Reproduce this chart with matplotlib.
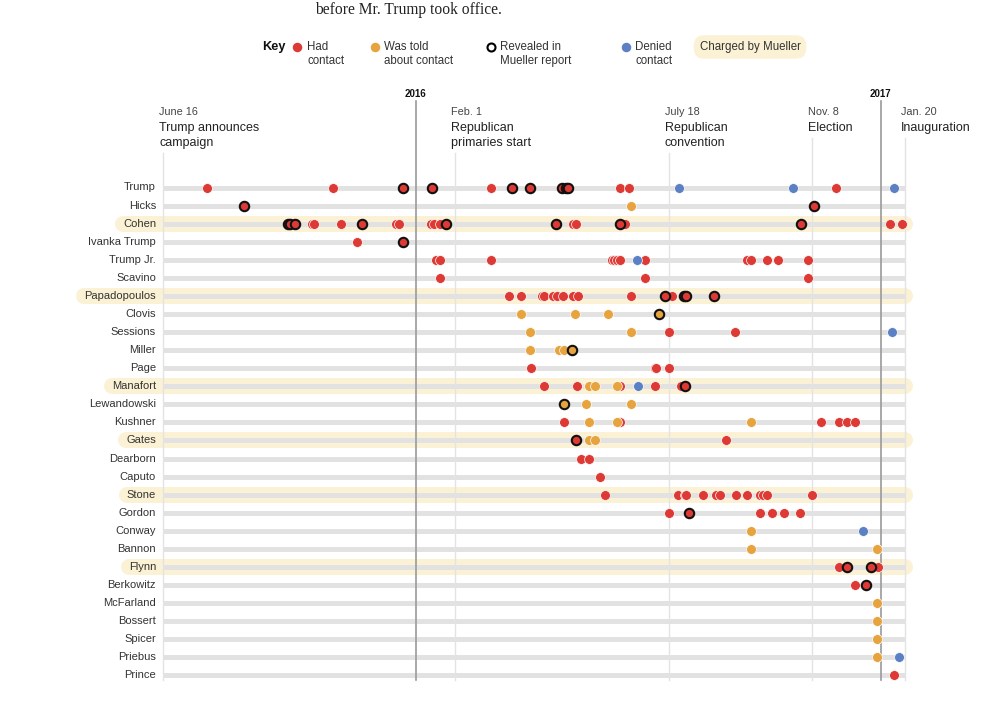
import datetime as dt
import matplotlib
matplotlib.use("Agg")
import matplotlib.pyplot as plt
import matplotlib.dates as mdates
from matplotlib import font_manager

# ---------------- data ----------------
people = ["Trump", "Hicks", "Cohen", "Ivanka Trump", "Trump Jr.", "Scavino",
          "Papadopoulos", "Clovis", "Sessions", "Miller", "Page", "Manafort",
          "Lewandowski", "Kushner", "Gates", "Dearborn", "Caputo", "Stone",
          "Gordon", "Conway", "Bannon", "Flynn", "Berkowitz", "McFarland",
          "Bossert", "Spicer", "Priebus", "Prince"]
charged = ["Cohen", "Papadopoulos", "Manafort", "Gates", "Stone", "Flynn"]

had_contact = {
    "Trump": ["2015-07-21", "2015-10-28", "2016-02-29", "2016-06-10", "2016-06-17", "2016-11-27"],
    "Cohen": ["2015-10-11", "2015-10-13", "2015-11-03", "2015-12-16", "2015-12-19", "2016-01-13",
              "2016-01-15", "2016-01-20", "2016-05-04", "2016-05-06", "2016-06-14", "2017-01-08",
              "2017-01-18"],
    "Ivanka Trump": ["2015-11-16"],
    "Trump Jr.": ["2016-01-17", "2016-01-20", "2016-02-29", "2016-06-03", "2016-06-05", "2016-06-07",
                  "2016-06-10", "2016-06-29", "2016-09-18", "2016-09-21", "2016-10-03", "2016-10-12",
                  "2016-11-05"],
    "Scavino": ["2016-01-20", "2016-06-29", "2016-11-05"],
    "Papadopoulos": ["2016-03-14", "2016-03-24", "2016-04-09", "2016-04-11", "2016-04-18", "2016-04-21",
                     "2016-04-26", "2016-05-04", "2016-05-08", "2016-06-18", "2016-07-21"],
    "Sessions": ["2016-07-18", "2016-09-08"],
    "Page": ["2016-04-01", "2016-07-07", "2016-07-08", "2016-07-18"],
    "Manafort": ["2016-04-11", "2016-05-07", "2016-06-10", "2016-07-07", "2016-07-28"],
    "Kushner": ["2016-04-27", "2016-06-10", "2016-11-15", "2016-11-29", "2016-12-05", "2016-12-12"],
    "Gates": ["2016-09-01"],
    "Dearborn": ["2016-05-10", "2016-05-16"],
    "Caputo": ["2016-05-25"],
    "Stone": ["2016-05-29", "2016-07-25", "2016-07-31", "2016-08-01", "2016-08-14", "2016-08-24",
              "2016-08-27", "2016-09-09", "2016-09-18", "2016-09-28", "2016-09-30", "2016-10-03",
              "2016-11-08"],
    "Gordon": ["2016-07-18", "2016-09-28", "2016-10-07", "2016-10-17", "2016-10-29"],
    "Flynn": ["2016-11-29", "2016-12-30"],
    "Berkowitz": ["2016-12-12"],
    "Prince": ["2017-01-11"],
}

was_told = {
    "Hicks": ["2016-06-18"],
    "Clovis": ["2016-03-24", "2016-05-05", "2016-05-31"],
    "Sessions": ["2016-03-31", "2016-06-18"],
    "Miller": ["2016-03-31", "2016-04-23", "2016-04-27"],
    "Manafort": ["2016-05-16", "2016-05-21", "2016-06-07"],
    "Lewandowski": ["2016-05-14", "2016-06-18"],
    "Kushner": ["2016-05-16", "2016-06-07", "2016-09-21"],
    "Gates": ["2016-05-16", "2016-05-21"],
    "Conway": ["2016-09-21"],
    "Bannon": ["2016-09-21", "2016-12-29"],
    "McFarland": ["2016-12-29"],
    "Bossert": ["2016-12-29"],
    "Spicer": ["2016-12-29"],
    "Priebus": ["2016-12-29"],
}

denied = {
    "Trump": ["2016-07-26", "2016-10-24", "2017-01-11"],
    "Trump Jr.": ["2016-06-23"],
    "Sessions": ["2017-01-10"],
    "Manafort": ["2016-06-24"],
    "Conway": ["2016-12-18"],
    "Priebus": ["2017-01-15"],
}

# revealed in the Mueller report (black ring)
mueller_had = {
    "Trump": ["2015-12-22", "2016-01-14", "2016-03-17", "2016-03-31", "2016-04-25", "2016-04-28",
              "2016-04-30"],
    "Hicks": ["2015-08-19", "2016-11-09"],
    "Cohen": ["2015-09-22", "2015-09-24", "2015-09-28", "2015-11-20", "2016-01-25", "2016-04-20",
              "2016-06-10", "2016-10-30"],
    "Ivanka Trump": ["2015-12-22"],
    "Papadopoulos": ["2016-07-15", "2016-07-30", "2016-08-01", "2016-08-23"],
    "Manafort": ["2016-07-31"],
    "Gates": ["2016-05-06"],
    "Gordon": ["2016-08-03"],
    "Flynn": ["2016-12-05", "2016-12-24"],
    "Berkowitz": ["2016-12-20"],
}
mueller_told = {
    "Clovis": ["2016-07-10"],
    "Miller": ["2016-05-03"],
    "Lewandowski": ["2016-04-27"],
}

events = [("2015-06-16", "June 16", ["Trump announces", "campaign"]),
          ("2016-02-01", "Feb. 1", ["Republican", "primaries start"]),
          ("2016-07-18", "July 18", ["Republican", "convention"]),
          ("2016-11-08", "Nov. 8", ["Election"]),
          ("2017-01-20", "Jan. 20", ["Inauguration"])]
years = [("2016-01-01", "2016"), ("2017-01-01", "2017")]
start_date, end_date = "2015-06-16", "2017-01-20"

# ---------------- style ----------------
RED, ORANGE, BLUE = "#dd3a35", "#e6a33e", "#5b80c4"
BAND, ROWLINE = "#fbf1d4", "#e2e2e2"
TXT = "#333333"

avail = {f.name for f in font_manager.fontManager.ttflist}
SANS = "Liberation Sans" if "Liberation Sans" in avail else "DejaVu Sans"
SERIF = "Liberation Serif" if "Liberation Serif" in avail else "DejaVu Serif"
plt.rcParams["font.family"] = [SANS, "DejaVu Sans"]

W, H = 999, 722
fig = plt.figure(figsize=(W / 100, H / 100), dpi=100)
ax = fig.add_axes([0, 0, 1, 1])
ax.set_axis_off()

def dnum(s):
    return mdates.date2num(dt.datetime.strptime(s, "%Y-%m-%d"))

# layout: pixel mapping of the time axis
X0_PX, X1_PX = 163.0, 905.0
PX_PER_DAY = (X1_PX - X0_PX) / (dnum(end_date) - dnum(start_date))

def px2x(px):
    return dnum(start_date) + (px - X0_PX) / PX_PER_DAY

ax.set_xlim(px2x(0), px2x(W))
ax.set_ylim(H, 0)

ROW0, ROWSTEP = 187.5, 18.07
rowy = {p: ROW0 + i * ROWSTEP for i, p in enumerate(people)}
PT = 72 / 100.0  # points per pixel

# header text
fig.text(315 / W, 1 - 1.5 / H, "before Mr. Trump took office.", fontsize=11.2,
         family=SERIF, color="#222222", va="top", ha="left")

# legend
ly1, ly2 = 47, 61
LF = 8.3
ax.text(px2x(262), ly1, "Key", fontsize=9.2, fontweight="bold", color="#111111",
        va="center", ha="left")
ax.scatter([px2x(297)], [ly1], s=(9.5 * PT) ** 2, color=RED, linewidths=0, zorder=5)
ax.text(px2x(307), ly1, "Had", fontsize=LF, color=TXT, va="center")
ax.text(px2x(307), ly2, "contact", fontsize=LF, color=TXT, va="center")
ax.scatter([px2x(375)], [ly1], s=(9.5 * PT) ** 2, color=ORANGE, linewidths=0, zorder=5)
ax.text(px2x(384), ly1, "Was told", fontsize=LF, color=TXT, va="center")
ax.text(px2x(384), ly2, "about contact", fontsize=LF, color=TXT, va="center")
ax.scatter([px2x(491)], [ly1], s=(8.0 * PT) ** 2, facecolor="white", edgecolor="black",
           linewidths=1.5, zorder=5)
ax.text(px2x(500), ly1, "Revealed in", fontsize=LF, color=TXT, va="center")
ax.text(px2x(500), ly2, "Mueller report", fontsize=LF, color=TXT, va="center")
ax.scatter([px2x(626)], [ly1], s=(9.5 * PT) ** 2, color=BLUE, linewidths=0, zorder=5)
ax.text(px2x(635), ly1, "Denied", fontsize=LF, color=TXT, va="center")
ax.text(px2x(635), ly2, "contact", fontsize=LF, color=TXT, va="center")
ax.text(px2x(750), ly1, "Charged by Mueller", fontsize=LF, color=TXT, va="center", ha="center",
        bbox=dict(boxstyle="round,pad=0.5,rounding_size=0.9", facecolor=BAND, edgecolor="none"))

# year markers
ROW_BOTTOM = 680
for d, lab in years:
    ax.text(dnum(d), 94, lab, fontsize=7, fontweight="bold", color="#111111",
            ha="center", va="center")
    ax.plot([dnum(d), dnum(d)], [101, ROW_BOTTOM], color="#9a9a9a", lw=1.2, zorder=3)

# event markers
for d, lab, names in events:
    xl = dnum(d) - 4 / PX_PER_DAY
    ax.text(xl, 112, lab, fontsize=7.8, color="#444444", ha="left", va="center")
    for k, nm in enumerate(names):
        ax.text(xl, 128 + k * 15, nm, fontsize=9.0, color="#222222", ha="left", va="center")
    top = 128 + (len(names) - 1) * 15 + 10
    ax.plot([dnum(d), dnum(d)], [top, ROW_BOTTOM], color="#e3e3e3", lw=1.0, zorder=3)

# rows
labels = {}
for p in people:
    y = rowy[p]
    ax.plot([dnum(start_date), dnum(end_date)], [y, y], color=ROWLINE, lw=5 * PT,
            solid_capstyle="butt", zorder=2)
    labels[p] = ax.text(px2x(156), y, p, fontsize=8.0, color=TXT, ha="right", va="center", zorder=6)

fig.canvas.draw()
for p in charged:
    bb = labels[p].get_window_extent()
    y = rowy[p]
    ax.plot([px2x(bb.x0), dnum(end_date)], [y, y], color=BAND, lw=16 * PT,
            solid_capstyle="round", zorder=1)

# dots
DOT = (9.8 * PT) ** 2
RING = (9.4 * PT) ** 2
for group, color in ((had_contact, RED), (was_told, ORANGE), (denied, BLUE)):
    for p, dates in group.items():
        xs = sorted(dnum(d) for d in dates)
        ax.scatter(xs, [rowy[p]] * len(xs), s=DOT, color=color, edgecolor="white",
                   linewidths=0.5, zorder=4)
for group, color in ((mueller_had, RED), (mueller_told, ORANGE)):
    for p, dates in group.items():
        xs = sorted(dnum(d) for d in dates)
        ax.scatter(xs, [rowy[p]] * len(xs), s=RING, facecolor=color, edgecolor="#111111",
                   linewidths=1.5, zorder=5)

fig.savefig("out.png", dpi=100, facecolor="white")
